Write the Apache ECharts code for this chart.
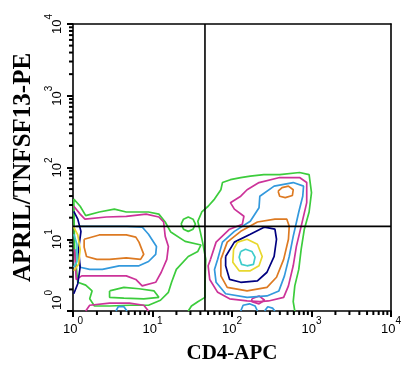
<!DOCTYPE html>
<html>
<head>
<meta charset="utf-8">
<script src="https://cdn.jsdelivr.net/npm/echarts@6/dist/echarts.min.js"></script>
<style>
  html, body { margin: 0; padding: 0; background: #fff; }
  #chart { width: 404px; height: 369px; }
</style>
</head>
<body>
<div id="chart"></div>
<script>
// axes are in log10 decades (10^0 .. 10^4)
const decades = [0, 1, 2, 3, 4];
const minorMultipliers = [2, 3, 4, 5, 6, 7, 8, 9];
const gateX = 1.66;
const gateY = 1.18;

// contour lines, [log10 CD4, log10 APRIL]
const greenLeft = [[0.01,1.56],[0.09,1.46],[0.16,1.33],[0.33,1.38],[0.52,1.42],[0.67,1.38],[0.95,1.38],[1.08,1.35],[1.16,1.24],[1.23,1.10],[1.41,0.97],[1.61,0.92],[1.57,0.83],[1.45,0.76],[1.30,0.58],[1.24,0.40],[1.20,0.26],[1.10,0.15],[0.95,0.08],[0.71,0.08],[0.46,0.07],[0.27,0.07],[0.21,0.17],[0.24,0.28],[0.16,0.36],[0.06,0.40],[0.02,0.86]];
const greenLeftHole = [[0.46,0.28],[0.64,0.33],[0.83,0.31],[1.02,0.28],[1.08,0.19],[0.89,0.17],[0.64,0.18],[0.46,0.19]];
const greenCircle = [[1.36,1.21],[1.39,1.28],[1.45,1.31],[1.51,1.28],[1.54,1.21],[1.51,1.14],[1.45,1.11],[1.39,1.14]];
const magentaLeft = [[0.01,1.46],[0.09,1.35],[0.15,1.28],[0.42,1.31],[0.67,1.32],[0.92,1.35],[1.08,1.31],[1.14,1.24],[1.16,1.04],[1.20,0.90],[1.18,0.72],[1.11,0.54],[1.04,0.40],[0.87,0.35],[0.79,0.44],[0.67,0.49],[0.46,0.49],[0.25,0.49],[0.11,0.49],[0.04,0.44],[0.02,0.86]];
const magentaLeftBottom = [[0.16,0],[0.21,0.08],[0.46,0.11],[0.71,0.11],[0.89,0.08],[0.95,0]];
const blueLeft = [[0.04,1.18],[0.17,1.18],[0.67,1.18],[0.87,1.17],[0.95,1.07],[1.05,0.90],[1.04,0.79],[0.95,0.69],[0.83,0.63],[0.58,0.63],[0.37,0.58],[0.21,0.58],[0.09,0.61],[0.04,0.86]];
const blueLeftBottom = [[0.54,0],[0.57,0.06],[0.64,0.06],[0.68,0]];
const orangeLeft = [[0.14,1.00],[0.33,1.06],[0.67,1.06],[0.79,1.03],[0.83,0.96],[0.89,0.79],[0.85,0.72],[0.67,0.74],[0.46,0.72],[0.30,0.72],[0.17,0.76],[0.14,0.89]];
const navyEdge = [[0.01,1.39],[0.06,1.28],[0.10,1.11],[0.07,0.86],[0.09,0.61],[0.06,0.38],[0.01,0.24]];
const yellowEdge = [[0.01,1.17],[0.06,1.06],[0.09,0.86],[0.07,0.65],[0.01,0.56]];
const cyanEdge = [[0.01,1.07],[0.05,0.93],[0.05,0.69],[0.01,0.61]];

const cyanRight = [[2.11,0.83],[2.17,0.86],[2.25,0.83],[2.29,0.75],[2.27,0.65],[2.19,0.63],[2.12,0.65],[2.09,0.75]];
const yellowRight = [[2.02,0.86],[2.07,0.96],[2.19,1.00],[2.32,0.93],[2.38,0.76],[2.34,0.63],[2.23,0.56],[2.09,0.56],[2.01,0.68]];
const navyRight = [[1.92,0.76],[2.03,0.96],[2.23,1.07],[2.41,1.17],[2.54,1.14],[2.56,1.00],[2.53,0.76],[2.44,0.54],[2.32,0.42],[2.11,0.40],[1.97,0.44],[1.92,0.63]];
const orangeRight = [[1.86,0.72],[1.94,0.96],[2.11,1.11],[2.32,1.24],[2.54,1.28],[2.69,1.28],[2.72,1.18],[2.71,1.00],[2.65,0.72],[2.56,0.47],[2.44,0.33],[2.19,0.28],[1.94,0.33],[1.86,0.49]];
const orangeRightTop = [[2.58,1.67],[2.63,1.72],[2.71,1.74],[2.77,1.69],[2.76,1.61],[2.67,1.58],[2.60,1.60]];
const blueRight = [[1.82,0.72],[1.88,0.96],[2.03,1.11],[2.23,1.25],[2.34,1.44],[2.35,1.60],[2.53,1.74],[2.77,1.79],[2.90,1.74],[2.89,1.60],[2.84,1.38],[2.77,1.04],[2.72,0.76],[2.66,0.49],[2.59,0.28],[2.44,0.21],[2.19,0.19],[1.92,0.24],[1.80,0.40],[1.78,0.58]];
const blueRightBottomA = [[2.11,0],[2.14,0.08],[2.22,0.10],[2.29,0.07],[2.32,0]];
const blueRightBottomB = [[2.41,0],[2.45,0.06],[2.51,0.04],[2.54,0]];
const magentaRight = [[1.73,0.72],[1.80,0.96],[1.97,1.14],[2.13,1.21],[2.15,1.32],[2.03,1.42],[1.98,1.51],[2.11,1.60],[2.19,1.69],[2.34,1.79],[2.60,1.86],[2.85,1.86],[2.94,1.79],[2.94,1.51],[2.87,1.18],[2.81,0.90],[2.77,0.63],[2.71,0.35],[2.65,0.19],[2.46,0.14],[2.35,0.13],[2.19,0.14],[1.97,0.17],[1.82,0.26],[1.72,0.44],[1.70,0.63]];
const magentaRightLoop = [[2.25,0.17],[2.34,0.21],[2.41,0.15],[2.34,0.10],[2.25,0.13]];
const greenRight = [[1.45,0],[1.49,0.07],[1.57,0.13],[1.66,0.19],[1.66,0.35],[1.67,0.72],[1.63,0.96],[1.60,1.11],[1.57,1.25],[1.62,1.38],[1.70,1.46],[1.78,1.56],[1.86,1.69],[1.88,1.79],[1.98,1.83],[2.11,1.86],[2.23,1.88],[2.40,1.90],[2.60,1.90],[2.85,1.93],[2.97,1.90],[3.00,1.65],[2.97,1.38],[2.91,1.14],[2.87,0.86],[2.84,0.58],[2.79,0.35],[2.77,0.13],[2.79,0]];

const GREEN = '#3ccc3c', MAGENTA = '#cc3399', BLUE = '#3399dd', ORANGE = '#dd7a22',
      NAVY = '#000080', YELLOW = '#e8d82e', CYAN = '#3fcccc';

const contours = [
  [greenLeft, GREEN, true], [greenLeftHole, GREEN, true], [greenCircle, GREEN, true], [greenRight, GREEN, false],
  [magentaLeft, MAGENTA, false], [magentaLeftBottom, MAGENTA, false], [magentaRight, MAGENTA, true], [magentaRightLoop, MAGENTA, true],
  [blueLeft, BLUE, false], [blueLeftBottom, BLUE, false], [blueRight, BLUE, true], [blueRightBottomA, BLUE, false], [blueRightBottomB, BLUE, false],
  [orangeLeft, ORANGE, true], [orangeRight, ORANGE, true], [orangeRightTop, ORANGE, true],
  [navyEdge, NAVY, false], [navyRight, NAVY, true],
  [yellowEdge, YELLOW, false], [yellowRight, YELLOW, true],
  [cyanEdge, CYAN, false], [cyanRight, CYAN, true]
];

// minor log ticks at 2..9 within each decade
const minorTicks = [];
decades.slice(0, -1).forEach(d => minorMultipliers.forEach(m => minorTicks.push(d + Math.log10(m))));

const chart = echarts.init(document.getElementById('chart'));

const labelRich = {
  b: { fontFamily: 'Liberation Sans', fontSize: 13, color: '#000', lineHeight: 20, verticalAlign: 'bottom' },
  b0: { fontFamily: 'Liberation Sans', fontSize: 13, color: '#000', lineHeight: 20, verticalAlign: 'bottom', padding: [0, 0, 0, 22] },
  s: { fontFamily: 'Liberation Sans', fontSize: 10, color: '#000', lineHeight: 20, verticalAlign: 'top' }
};

function tickSeries(horizontal, values, len) {
  return {
    type: 'custom',
    clip: false,
    data: values.map(v => horizontal ? [v, 0] : [0, v]),
    renderItem: (params, api) => {
      const p = api.coord([api.value(0), api.value(1)]);
      const shape = horizontal
        ? { x1: p[0], y1: p[1], x2: p[0], y2: p[1] + len }
        : { x1: p[0], y1: p[1], x2: p[0] - len, y2: p[1] };
      return { type: 'line', shape: shape, style: { stroke: '#000', lineWidth: 2 } };
    }
  };
}

// ticks first, then contours and gates
const series = [
  tickSeries(true, minorTicks, 4),
  tickSeries(false, minorTicks, 4)
];

contours.forEach(([pts, color, closed]) => series.push({
  type: 'line',
  data: closed ? pts.concat([pts[0]]) : pts,
  showSymbol: false,
  silent: true,
  lineStyle: { color: color, width: 1.7 }
}));

series.push({
  type: 'line',
  data: [[gateX, 0], [gateX, 4]],
  showSymbol: false, silent: true,
  lineStyle: { color: '#000', width: 1.6 },
  z: 3
});
series.push({
  type: 'line',
  data: [[0, gateY], [4, gateY]],
  showSymbol: false, silent: true,
  lineStyle: { color: '#000', width: 1.6 },
  z: 3
});

const lineOnly = { show: true, onZero: false, lineStyle: { color: '#000', width: 1.6 } };

const option = {
  animation: false,
  grid: { left: 73, top: 24, right: 8, bottom: 57 },
  xAxis: [{
    type: 'value',
    min: 0, max: 4, interval: 1,
    name: 'CD4-APC',
    nameLocation: 'middle',
    nameGap: 32,
    nameTextStyle: { fontFamily: 'Liberation Serif', fontWeight: 'bold', fontSize: 21, color: '#000' },
    axisLine: lineOnly,
    axisTick: { show: true, length: 6, lineStyle: { color: '#000', width: 2 } },
    splitLine: { show: false },
    axisLabel: {
      margin: 5,
      formatter: v => '{b|10}{s|' + v + '}',
      rich: labelRich
    }
  }, {
    type: 'value', position: 'top', min: 0, max: 4,
    axisLine: lineOnly, axisTick: { show: false }, axisLabel: { show: false }, splitLine: { show: false }
  }],
  yAxis: [{
    type: 'value',
    min: 0, max: 4, interval: 1,
    name: 'APRIL/TNFSF13-PE',
    nameLocation: 'middle',
    nameRotate: 90,
    nameGap: 33,
    nameTextStyle: { fontFamily: 'Liberation Serif', fontWeight: 'bold', fontSize: 25, color: '#000' },
    axisLine: lineOnly,
    axisTick: { show: true, length: 6, lineStyle: { color: '#000', width: 2 } },
    splitLine: { show: false },
    axisLabel: {
      rotate: 90,
      margin: 9,
      formatter: v => (v === 0 ? '{b0|10}' : '{b|10}') + '{s|' + v + '}',
      rich: labelRich
    }
  }, {
    type: 'value', position: 'right', min: 0, max: 4,
    axisLine: lineOnly, axisTick: { show: false }, axisLabel: { show: false }, splitLine: { show: false }
  }],
  series: series
};

chart.setOption(option);
</script>
</body>
</html>
